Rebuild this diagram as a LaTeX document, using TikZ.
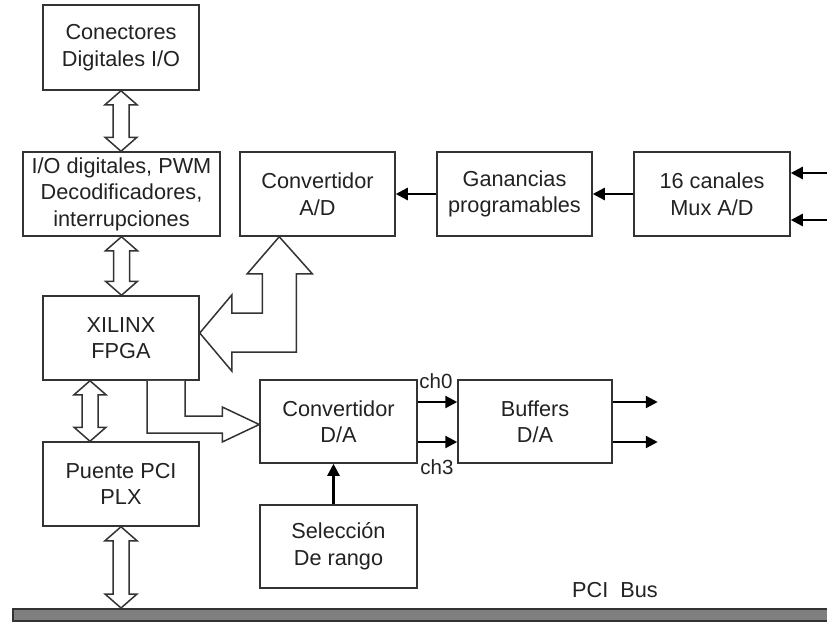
\documentclass[tikz,border=0pt]{standalone}
\usepackage{fontspec}
\setmainfont{Liberation Sans}
\usetikzlibrary{calc,arrows.meta}
\definecolor{linec}{HTML}{333333}
\definecolor{txtc}{HTML}{222222}
\definecolor{busc}{HTML}{7F7F7F}
\newcommand{\vdblarrow}[2]{%
  \draw[blockarr] let \p1=($#1$), \p2=($#2$) in
    (\x1,\y1) -- (\x1+16pt,\y1-14pt) -- (\x1+8pt,\y1-14pt) -- (\x1+8pt,\y2+14pt)
    -- (\x1+16pt,\y2+14pt) -- (\x1,\y2) -- (\x1-16pt,\y2+14pt) -- (\x1-8pt,\y2+14pt)
    -- (\x1-8pt,\y1-14pt) -- (\x1-16pt,\y1-14pt) -- cycle;}
\begin{document}
\begin{tikzpicture}[x=1pt,y=-1pt,
  blk/.style={draw=linec, line width=1.5pt, fill=white, inner sep=0pt, align=center,
    font=\fontsize{21.7}{26.5}\selectfont, text=txtc},
  lbl/.style={inner sep=0pt, font=\fontsize{20.5}{24}\selectfont, text=txtc},
  blockarr/.style={draw=linec, line width=1.5pt, fill=white, line join=miter},
  sig/.style={draw=black, line width=2.4pt, -{Triangle[length=12pt,width=12pt]}}]
\useasboundingbox (0,0) rectangle (827,621);
% boxes
\node[blk, minimum width=156pt, minimum height=85pt] (conn) at (121,47.5) {Conectores\\Digitales I/O};
\node[blk, minimum width=197pt, minimum height=84pt] (io) at (121.5,194) {I/O digitales, PWM\\Decodificadores,\\interrupciones};
\node[blk, minimum width=156pt, minimum height=84pt] (fpga) at (121,338) {XILINX\\FPGA};
\node[blk, minimum width=156pt, minimum height=84pt] (puente) at (121,484) {Puente PCI\\PLX};
\node[blk, minimum width=155pt, minimum height=84pt] (ad) at (317.5,194) {Convertidor\\A/D};
\node[blk, minimum width=155pt, minimum height=84pt] (gan) at (514.5,194) {Ganancias\\programables};
\node[blk, minimum width=156pt, minimum height=84pt] (mux) at (712,194) {16 canales\\Mux A/D};
\node[blk, minimum width=157pt, minimum height=83pt] (da) at (338.5,421.5) {Convertidor\\D/A};
\node[blk, minimum width=154pt, minimum height=83pt] (buf) at (535,421.5) {Buffers\\D/A};
\node[blk, minimum width=157pt, minimum height=83pt] (sel) at (338.5,546.5) {Selección\\De rango};
\node[draw=linec, line width=1.5pt, fill=busc, minimum width=830pt, minimum height=12pt, inner sep=0pt, anchor=north west] (bus) at (12,608) {};
% labels
\node[lbl] (ch0) at (436,381) {ch0};
\node[lbl] (ch3) at (437,467) {ch3};
\node[lbl, font=\fontsize{21.7}{26}\selectfont] (pcibus) at (615,590) {PCI\ \ Bus};
% double block arrows
\vdblarrow{(conn.south)}{(io.north)}
\vdblarrow{(io.south)}{(fpga.north)}
\vdblarrow{(fpga.south)+(-31,0)}{(puente.north)}
\vdblarrow{(puente.south)}{(bus.north)}
% L-shaped block arrow between FPGA and A/D
\draw[blockarr] let \p1=($(fpga.east)+(0,-5)$), \p2=($(ad.south west)+(40,0)$) in
  (\x1,\y1) -- (\x1+32pt,\y1+38pt) -- (\x1+32pt,\y1+20pt) -- (\x2-17pt,\y1+20pt)
  -- (\x2-17pt,\y2-37pt) -- (\x2-32pt,\y2-37pt) -- (\x2,\y2) -- (\x2+33pt,\y2-37pt)
  -- (\x2+17pt,\y2-37pt) -- (\x2+17pt,\y1-19pt) -- (\x1+32pt,\y1-19pt)
  -- (\x1+32pt,\y1-38pt) -- cycle;
% block arrow FPGA -> D/A
\draw[blockarr] let \p1=(fpga.south), \p2=(da.west) in
  (\x1+26pt,\y1) -- (\x1+26pt,\y2-11.5pt) -- (\x2-37pt,\y2-11.5pt) -- (\x2-37pt,\y2-20.5pt)
  -- (\x2,\y2-3pt) -- (\x2-37pt,\y2+14.5pt) -- (\x2-37pt,\y2+5.5pt) -- (\x1+64pt,\y2+5.5pt)
  -- (\x1+64pt,\y1);
% signal arrows
\draw[sig] (gan.west) -- (ad.east);
\draw[sig] (mux.west) -- (gan.east);
\coordinate (in1) at (830,173);
\coordinate (in2) at (830,220);
\draw[sig] (in1) -- (in1 -| mux.east);
\draw[sig] (in2) -- (in2 -| mux.east);
\coordinate (d0) at ($(da.east)+(0,-19.5)$);
\coordinate (d3) at ($(da.east)+(0,20.5)$);
\draw[sig] (d0) -- (d0 -| buf.west);
\draw[sig] (d3) -- (d3 -| buf.west);
\coordinate (o0) at ($(buf.east)+(45,-19.5)$);
\coordinate (o3) at ($(buf.east)+(45,20.5)$);
\draw[sig] (o0 -| buf.east) -- (o0);
\draw[sig] (o3 -| buf.east) -- (o3);
\coordinate (s0) at ($(sel.north)+(-5,0)$);
\draw[sig] (s0) -- (s0 |- da.south);
\end{tikzpicture}
\end{document}
